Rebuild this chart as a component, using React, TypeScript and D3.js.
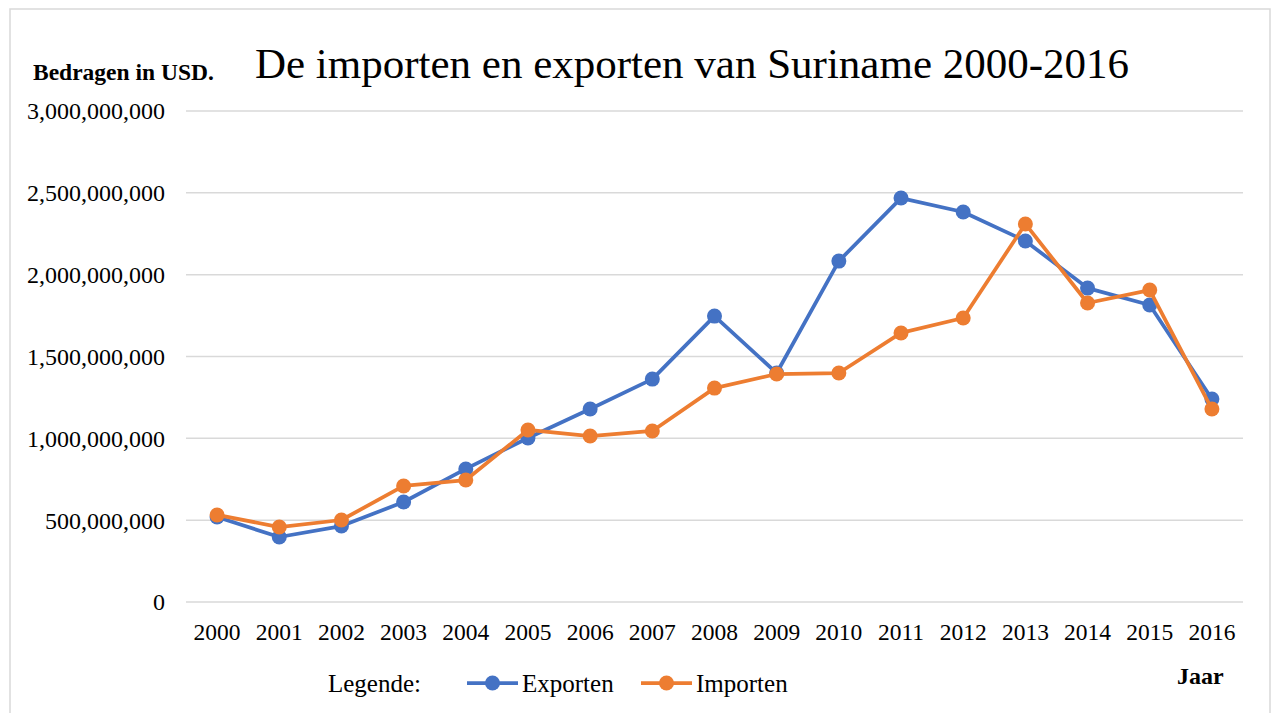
import React from 'react';
import * as d3 from 'd3';

// constants
const width = 1271;
const height = 713;
const margin = { top: 111, right: 28, bottom: 111, left: 186 };

const years = ['2000', '2001', '2002', '2003', '2004', '2005', '2006', '2007', '2008',
  '2009', '2010', '2011', '2012', '2013', '2014', '2015', '2016'];
const exporten = [519e6, 397e6, 464e6, 611e6, 813e6, 1002e6, 1179e6, 1362e6, 1747e6,
  1399e6, 2083e6, 2468e6, 2383e6, 2206e6, 1918e6, 1815e6, 1240e6];
const importen = [532e6, 458e6, 501e6, 709e6, 745e6, 1051e6, 1014e6, 1045e6, 1307e6,
  1393e6, 1399e6, 1644e6, 1735e6, 2310e6, 1827e6, 1906e6, 1179e6];
const yTicks = [0, 500e6, 1000e6, 1500e6, 2000e6, 2500e6, 3000e6];

const series = [
  { name: 'Exporten', values: exporten, colour: '#4472C4' },
  { name: 'Importen', values: importen, colour: '#ED7D31' },
];

const font = '"Liberation Serif", "Times New Roman", serif';

const App = () => {
  const xScale = d3.scaleBand()
    .domain(years)
    .range([margin.left, width - margin.right]);
  const yScale = d3.scaleLinear()
    .domain([0, 3000e6])
    .range([height - margin.bottom, margin.top]);
  const fmt = d3.format(',');

  const line = d3.line<number>()
    .x((d, i) => xScale(years[i])! + xScale.bandwidth() / 2)
    .y(d => yScale(d));

  const legend = [
    { x: 467, ...series[0] },
    { x: 641, ...series[1] },
  ];

  return (
    <div>
      <style>{`body{margin:0}`}</style>
      <svg width={width} height={height} style={{ display: 'block', fontFamily: font }}>
        <rect x={10} y={9} width={1260} height={720} fill="#fff" stroke="#d9d9d9" strokeWidth={1.5} />

        {/* grid + y labels */}
        {yTicks.map(t => (
          <g key={t}>
            <line x1={margin.left} x2={width - margin.right} y1={yScale(t)} y2={yScale(t)}
              stroke="#d9d9d9" strokeWidth={1.5} />
            <text x={165} y={yScale(t)} dy="0.35em" textAnchor="end" fontSize={24} fill="#000">
              {fmt(t)}
            </text>
          </g>
        ))}

        {/* x labels */}
        {years.map(y => (
          <text key={y} x={xScale(y)! + xScale.bandwidth() / 2} y={640} textAnchor="middle" fontSize={23.5} fill="#000">
            {y}
          </text>
        ))}

        {/* lines */}
        {series.map(s => (
          <g key={s.name}>
            <path d={line(s.values)!} fill="none" stroke={s.colour} strokeWidth={3.75} strokeLinejoin="round" />
            {s.values.map((v, i) => (
              <circle key={i} cx={xScale(years[i])! + xScale.bandwidth() / 2} cy={yScale(v)} r={7.5} fill={s.colour} />
            ))}
          </g>
        ))}

        {/* titles */}
        <text x={692} y={78} textAnchor="middle" fontSize={43} fill="#000">
          De importen en exporten van Suriname 2000-2016
        </text>
        <text x={33} y={80} fontSize={23.5} fontWeight="bold" fill="#000">Bedragen in USD.</text>
        <text x={1177} y={684} fontSize={24} fontWeight="bold" fill="#000">Jaar</text>

        {/* legend */}
        <text x={328} y={692} fontSize={25} fill="#000">Legende:</text>
        {legend.map(l => (
          <g key={l.name}>
            <line x1={l.x} x2={l.x + 51} y1={683} y2={683} stroke={l.colour} strokeWidth={3.75} />
            <circle cx={l.x + 25.5} cy={683} r={7.5} fill={l.colour} />
            <text x={l.x + 55} y={692} fontSize={25} fill="#000">{l.name}</text>
          </g>
        ))}
      </svg>
    </div>
  );
};

export default App;
